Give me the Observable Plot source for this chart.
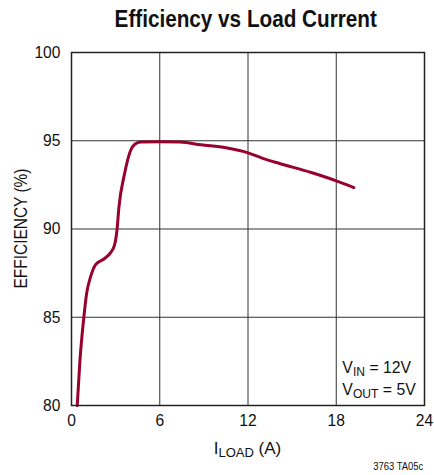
<!DOCTYPE html>
<html><head><meta charset="utf-8">
<script src="https://cdn.jsdelivr.net/npm/d3@7"></script>
<script src="https://cdn.jsdelivr.net/npm/@observablehq/plot@0.6"></script>
<style>
body{margin:0;background:#fff;}
#wrap{position:relative;width:434px;height:475px;font-family:"Liberation Sans",Arial,sans-serif;color:#111;}
#title{position:absolute;left:0;top:0;width:434px;padding-left:57px;box-sizing:border-box;text-align:center;height:38px;}
#title span{display:inline-block;font-weight:bold;font-size:23px;line-height:38px;transform:scaleX(0.9);transform-origin:50% 50%;}
#chart{position:absolute;left:0;top:38px;}
#caption{position:absolute;right:11px;top:459px;font-size:11px;line-height:14px;transform:scaleX(0.86);transform-origin:100% 50%;}
</style></head>
<body>
<div id="wrap">
<div id="title"><span>Efficiency vs Load Current</span></div>
<div id="chart"></div>
<div id="caption">3763 TA05c</div>
</div>
<script>
const loadCurrent = [0.39, 0.57, 0.84, 1.02, 1.3, 1.65, 2.2, 2.65, 2.93, 3.1, 3.22, 3.6, 4.01, 4.3, 4.7, 6, 7.4, 8.8, 10.5, 11.95, 13, 14.2, 16.3, 18, 19.2];
const efficiency  = [80, 82.5, 85, 86.3, 87.3, 88.0, 88.3, 88.65, 89.1, 90.0, 91.2, 93.1, 94.43, 94.8, 94.93, 94.95, 94.93, 94.77, 94.6, 94.33, 94.0, 93.7, 93.2, 92.73, 92.35];
const xTicks = [0, 6, 12, 18, 24];
const yTicks = [80, 85, 90, 95, 100];
const yLabel = "EFFICIENCY (%)";
const xLabelMain = "I", xLabelSub = "LOAD", xLabelTail = " (A)";
const note1 = ["V", "IN", " = 12V"];
const note2 = ["V", "OUT", " = 5V"];

const data = loadCurrent.map((x, i) => ({x, y: efficiency[i]}));
const font = '"Liberation Sans",Arial,sans-serif';

const plot = Plot.plot({
  width: 434, height: 437,
  marginTop: 14, marginLeft: 71, marginRight: 10, marginBottom: 70,
  style: {fontFamily: font, fontSize: "17px", color: "#111", background: "#fff"},
  x: {domain: [0, 24], ticks: xTicks, label: null},
  y: {domain: [80, 100], ticks: yTicks, label: null},
  marks: [
    Plot.gridX(xTicks, {stroke: "#333", strokeOpacity: 1, strokeWidth: 1}),
    Plot.gridY(yTicks, {stroke: "#333", strokeOpacity: 1, strokeWidth: 1}),
    Plot.axisX(xTicks, {tickSize: 0, tickPadding: 8, label: null, fontSize: 17}),
    Plot.axisY(yTicks, {tickSize: 0, tickPadding: 11, label: null, fontSize: 17}),
    Plot.line(data, {x: "x", y: "y", stroke: "#98002e", strokeWidth: 3, curve: "monotone-x"}),
    Plot.frame({stroke: "#222", strokeWidth: 1.5})
  ]
});
document.getElementById("chart").appendChild(plot);

const sx = plot.scale("x"), sy = plot.scale("y");
const svg = d3.select(plot);

// condense tick labels (reference uses a narrow face)
svg.selectAll('g[aria-label$="tick label"] text').each(function() {
  const t = this.getAttribute("transform") || "";
  this.setAttribute("transform", t + " scale(0.92,1)");
});

// y label
const yMid = (sy.apply(80) + sy.apply(100)) / 2;
svg.append("text")
  .attr("transform", `translate(27,${yMid}) rotate(-90) scale(0.86,1)`)
  .attr("text-anchor", "middle")
  .attr("font-family", font)
  .attr("font-size", 18).attr("fill", "#111")
  .text(yLabel);

// x label
const xMid = (sx.apply(0) + sx.apply(24)) / 2;
const xl = svg.append("text")
  .attr("x", xMid).attr("y", 416)
  .attr("text-anchor", "middle")
  .attr("font-family", font).attr("font-size", 17).attr("fill", "#111");
xl.append("tspan").text(xLabelMain);
xl.append("tspan").attr("font-size", 13).attr("dy", 3).text(xLabelSub);
xl.append("tspan").attr("dy", -3).text(xLabelTail);

// annotation
function note(parts, yVal) {
  const x0 = sx.apply(18.45), y0 = sy.apply(yVal);
  const t = svg.append("text")
    .attr("transform", `translate(${x0},${y0}) scale(0.93,1)`)
    .attr("text-anchor", "start")
    .attr("font-family", font).attr("font-size", 17).attr("fill", "#111");
  t.append("tspan").text(parts[0]);
  t.append("tspan").attr("font-size", 13).attr("dy", 3).text(parts[1]);
  t.append("tspan").attr("dy", -3).text(parts[2]);
}
note(note1, 81.8);
note(note2, 80.55);
</script>
</body></html>
